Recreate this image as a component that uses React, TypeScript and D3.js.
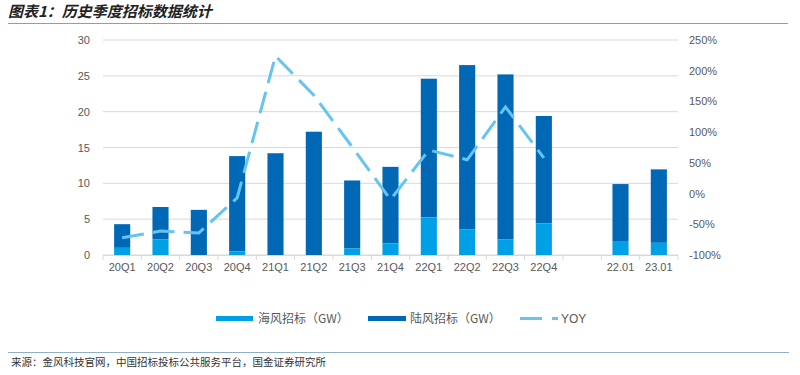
import React from "react";
import * as d3 from "d3";

const categories = ["20Q1","20Q2","20Q3","20Q4","21Q1","21Q2","21Q3","21Q4","22Q1","22Q2","22Q3","22Q4","","22.01","23.01"];
const seaValues = [1.0, 2.2, 0, 0.5, 0, 0, 0.9, 1.6, 5.25, 3.6, 2.15, 4.4, null, 1.95, 1.7];
const landValues = [3.3, 4.5, 6.3, 13.3, 14.2, 17.2, 9.5, 10.7, 19.35, 22.9, 23.05, 15.0, null, 7.95, 10.25];
const yoyValues = [-72, -61, -64, -7, 224, 160, 76, -10, 71, 55, 141, 58, null, null, null];
const leftTicks = [0, 5, 10, 15, 20, 25, 30];
const rightTicks = [-100, -50, 0, 50, 100, 150, 200, 250];

const SEA = "#00A0E6";
const LAND = "#0068B5";
const YOY = "#66C4F2";
const TXT = "#595959";

export default function App() {
  const W = 800, H = 375;
  const x0 = 103, x1 = 678, yTop = 40, yBot = 255;
  const x = d3.scaleBand().domain(categories.map((c, i) => String(i))).range([x0, x1]).paddingInner(0).paddingOuter(0);
  const yL = d3.scaleLinear().domain([0, 30]).range([yBot, yTop]);
  const yR = d3.scaleLinear().domain([-100, 250]).range([yBot, yTop]);
  const bw = x.bandwidth() * 0.42;
  const cx = (i: number) => (x(String(i)) as number) + x.bandwidth() / 2;

  const linePts: [number, number][] = [];
  yoyValues.forEach((v, i) => { if (v !== null) linePts.push([cx(i), yR(v)]); });
  const line = d3.line<[number, number]>().x(d => d[0]).y(d => d[1])(linePts) || "";

  const font = "Arial, 'Liberation Sans', 'Noto Sans CJK SC', sans-serif";
  const cjk = "'Noto Sans CJK SC', sans-serif";

  return (
    <svg width={W} height={H} style={{ position: "absolute", left: 0, top: 0, background: "#fff" }}>
      <text x={8} y={17} fontSize={15} fontWeight="bold" fontStyle="italic" fill="#222" fontFamily={cjk}>图表1：历史季度招标数据统计</text>
      <line x1={8} x2={788} y1={23.5} y2={23.5} stroke="#7FA3BD" strokeWidth={1.2} />

      {leftTicks.map(t => (
        <line key={"g" + t} x1={x0} x2={x1} y1={yL(t)} y2={yL(t)} stroke="#D9D9D9" strokeWidth={1} />
      ))}
      {leftTicks.map(t => (
        <text key={"l" + t} x={90} y={yL(t) + 4} fontSize={11} fill={TXT} textAnchor="end" fontFamily={font}>{t}</text>
      ))}
      {rightTicks.map(t => (
        <text key={"r" + t} x={689} y={yR(t) + 4} fontSize={11} fill={TXT} textAnchor="start" fontFamily={font}>{t}%</text>
      ))}

      {categories.map((c, i) => {
        const s = seaValues[i], l = landValues[i];
        if (s === null || l === null) return null;
        const left = cx(i) - bw / 2;
        return (
          <g key={"b" + i}>
            <rect x={left} y={yL(s + l)} width={bw} height={yL(s) - yL(s + l)} fill={LAND} />
            {s > 0 && <rect x={left} y={yL(s)} width={bw} height={yL(0) - yL(s)} fill={SEA} />}
          </g>
        );
      })}

      <line x1={x0} x2={x1} y1={yBot + 0.5} y2={yBot + 0.5} stroke="#D9D9D9" strokeWidth={1} />
      {categories.map((c, i) => (
        <line key={"t" + i} x1={(x(String(i)) as number)} x2={(x(String(i)) as number)} y1={yBot} y2={yBot + 5} stroke="#D9D9D9" />
      ))}
      <line x1={x1} x2={x1} y1={yBot} y2={yBot + 5} stroke="#D9D9D9" />
      {categories.map((c, i) => (
        <text key={"c" + i} x={cx(i)} y={271} fontSize={11} fill={TXT} textAnchor="middle" fontFamily={font}>{c}</text>
      ))}

      <path d={line} fill="none" stroke={YOY} strokeWidth={3} strokeDasharray="22,9" />

      <rect x={216} y={316} width={37} height={5} fill={SEA} />
      <text x={258} y={323} fontSize={12} fill={TXT} fontFamily={cjk}>海风招标（GW）</text>
      <rect x={368} y={316} width={38} height={5} fill={LAND} />
      <text x={410} y={323} fontSize={12} fill={TXT} fontFamily={cjk}>陆风招标（GW）</text>
      <line x1={520} x2={558} y1={318.5} y2={318.5} stroke={YOY} strokeWidth={3} strokeDasharray="22,10" />
      <text x={561} y={323} fontSize={12} fill={TXT} fontFamily={font}>YOY</text>

      <line x1={8} x2={789} y1={352.5} y2={352.5} stroke="#8FB0C8" strokeWidth={1.2} />
      <text x={11} y={366} fontSize={10.5} fill="#333" fontFamily={cjk}>来源：金风科技官网，中国招标投标公共服务平台，国金证券研究所</text>
    </svg>
  );
}
